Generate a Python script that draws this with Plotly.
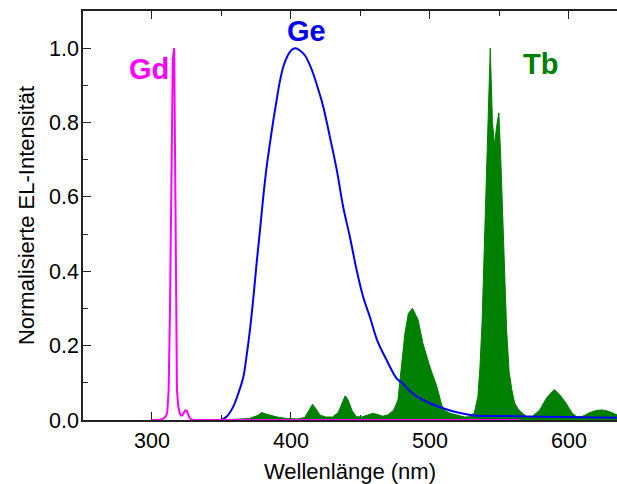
import plotly.graph_objects as go

# ---- data ----
gd_x = [300, 305, 308, 310, 311, 312, 313, 314, 315, 316, 316.7, 317.3, 318, 319, 320, 321,
        322, 323, 324, 325, 326, 327, 328, 330, 350, 400, 450, 500, 565]
gd_y = [0, 0, 0.003, 0.01, 0.02, 0.08, 0.3, 0.7, 0.97, 1.0, 0.7, 0.3, 0.08, 0.035, 0.018, 0.012,
        0.013, 0.02, 0.026, 0.025, 0.015, 0.006, 0.002, 0, 0, 0, 0, 0, 0]

ge_x = [350, 354, 358.5, 362, 365.7, 368, 370.5, 373, 375.3, 378, 380.1, 382.5, 384.9, 387.5,
        389.7, 392, 394.5, 397, 399.3, 401.5, 403.4, 406, 410, 413, 416, 420, 423.3, 428, 433,
        437.6, 442.4, 447.3, 452, 457, 462, 469, 476, 480, 485, 490, 500, 510, 520, 530, 540,
        550, 565, 580, 600, 620, 635]
ge_y = [0, 0.01, 0.036, 0.07, 0.115, 0.17, 0.242, 0.33, 0.421, 0.52, 0.6, 0.68, 0.744, 0.81,
        0.86, 0.91, 0.95, 0.975, 0.99, 0.998, 1.0, 0.995, 0.981, 0.96, 0.932, 0.885, 0.842, 0.762,
        0.672, 0.573, 0.493, 0.403, 0.331, 0.275, 0.215, 0.16, 0.112, 0.1, 0.08, 0.065, 0.045,
        0.031, 0.02, 0.013, 0.011, 0.011, 0.01, 0.009, 0.008, 0.007, 0.006]

tb_x = [350, 360, 370, 376, 379, 383, 390, 397, 405, 410, 413, 415.5, 418, 421, 425, 430, 434,
        437, 439, 441, 444, 447, 451, 455, 459, 463, 466, 470, 474, 477, 479.5, 482, 484.5, 487.5,
        491.5, 495, 500, 505, 508.5, 511, 514.5, 520, 525, 529, 532, 534.5, 536, 537.5, 539.5,
        541.5, 543.4, 545, 546.5, 548, 549.6, 551, 552.7, 555.2, 557, 559, 561, 564, 569.5, 574,
        579, 584, 589.5, 594, 598, 602, 605.5, 610, 615, 620, 624, 628, 632, 635]
tb_y = [0, 0.001, 0.004, 0.012, 0.02, 0.015, 0.008, 0.004, 0.003, 0.007, 0.025, 0.042, 0.03,
        0.013, 0.008, 0.008, 0.02, 0.05, 0.065, 0.055, 0.025, 0.009, 0.008, 0.013, 0.018, 0.014,
        0.01, 0.014, 0.027, 0.054, 0.14, 0.233, 0.287, 0.3, 0.269, 0.206, 0.143, 0.09, 0.04,
        0.025, 0.018, 0.012, 0.008, 0.009, 0.02, 0.063, 0.143, 0.26, 0.511, 0.8, 1.0, 0.8, 0.74,
        0.79, 0.826, 0.7, 0.511, 0.242, 0.13, 0.08, 0.045, 0.027, 0.009, 0.01, 0.027, 0.06,
        0.082, 0.065, 0.045, 0.02, 0.009, 0.01, 0.02, 0.026, 0.027, 0.024, 0.018, 0.013]

labels = ["Gd", "Ge", "Tb"]
label_x = [297.8, 411.3, 579.5]
label_y = [0.945, 1.045, 0.957]
label_colors = ["#FF00FF", "#0000FF", "#008000"]

fig = go.Figure()
fig.add_trace(go.Scatter(x=tb_x, y=tb_y, mode="lines", fill="tozeroy",
                         fillcolor="#008000", line=dict(color="#008000", width=1),
                         showlegend=False))
fig.add_trace(go.Scatter(x=ge_x, y=ge_y, mode="lines", line=dict(color="#0000FF", width=2),
                         line_shape="spline", showlegend=False))
fig.add_trace(go.Scatter(x=gd_x, y=gd_y, mode="lines", line=dict(color="#FF00FF", width=2),
                         showlegend=False))

for t, x, y, c in zip(labels, label_x, label_y, label_colors):
    fig.add_annotation(x=x, y=y, text="<b>%s</b>" % t, showarrow=False,
                       font=dict(family="Liberation Sans", size=29, color=c),
                       xanchor="center", yanchor="middle")

axis_common = dict(showline=True, linecolor="#222222", linewidth=1.5, ticks="inside",
                   ticklen=8, tickwidth=1.3, tickcolor="#222222", showgrid=False,
                   zeroline=False, layer="below traces", automargin=False,
                   tickfont=dict(family="Liberation Sans", size=21.5, color="black"),
                   title_font=dict(family="Liberation Sans", size=22, color="black"))

fig.update_xaxes(range=[250.4, 634.6], dtick=100, tick0=0, mirror="ticks",
                 minor=dict(dtick=50, ticks="inside", ticklen=5, tickcolor="#222222", tickwidth=1.3),
                 title_text="Wellenlänge (nm)", title_standoff=13, **axis_common)
fig.update_yaxes(range=[0, 1.1], tickvals=[0, 0.2, 0.4, 0.6, 0.8, 1.0], tickformat=".1f",
                 minor=dict(tickvals=[0.1, 0.3, 0.5, 0.7, 0.9], ticks="inside", ticklen=5,
                            tickcolor="#222222", tickwidth=1.3),
                 ticklabelstandoff=-2,
                 title_text="Normalisierte EL-Intensität", title_standoff=8, **axis_common)

fig.update_layout(width=617, height=484, margin=dict(l=83, r=0, t=11, b=64),
                  plot_bgcolor="white", paper_bgcolor="white",
                  font=dict(family="Liberation Sans"))

fig.write_html("out.html", config={"displayModeBar": False},
               post_script="document.body.style.margin='0';"
                           "document.documentElement.style.overflow='hidden';"
                           "document.body.style.overflow='hidden';")
